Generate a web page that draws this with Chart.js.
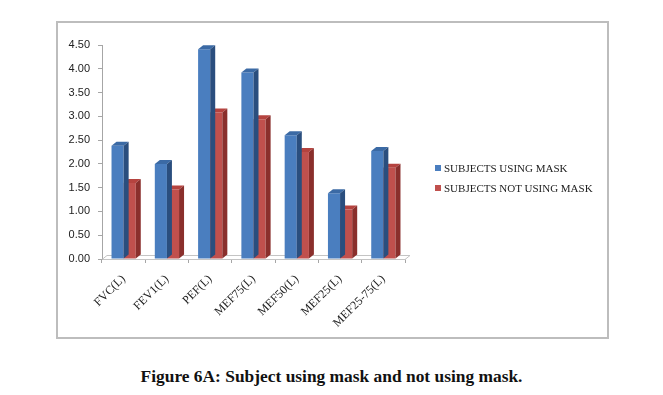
<!DOCTYPE html>
<html lang="en">
<head>
    <meta charset="UTF-8">
    <title>Figure 6A</title>
    <script src="https://cdn.jsdelivr.net/npm/chart.js"></script>
    <style>
        body { margin: 0; background: #fff; width: 663px; height: 395px; position: relative; overflow: hidden; }
        .frame {
            position: absolute; left: 56px; top: 21px; width: 553px; height: 318px;
            border: 2px solid #bdbdbd; box-sizing: border-box;
        }
        .itens {
            position: absolute; left: 435px; top: 161px;
            font: 11px "Liberation Serif", serif; color: #222;
        }
        .itens div { height: 20px; line-height: 14px; white-space: nowrap; }
        .itens span.box { display: inline-block; width: 6px; height: 6px; margin-right: 3px; vertical-align: 1px; }
        .legenda {
            position: absolute; top: 366px; left: 0; width: 663px; text-align: center;
            font: bold 17.4px "Liberation Serif", serif; color: #111;
        }
    </style>
</head>
<body>

    <div class="frame">
        <canvas id="myChart"></canvas>
    </div>
    <div class="itens" id="itens"></div>
    <div class="legenda">Figure 6A: Subject using mask and not using mask.</div>

<script>
    // dados
    var categorias = ['FVC(L)', 'FEV1(L)', 'PEF(L)', 'MEF75(L)', 'MEF50(L)', 'MEF25(L)', 'MEF25-75(L)'];
    var usandoMascara = [2.38, 2.00, 4.41, 3.92, 2.60, 1.38, 2.27];
    var semMascara = [1.60, 1.46, 3.08, 2.94, 2.25, 1.04, 1.92];
    var ticksY = [0, 0.5, 1, 1.5, 2, 2.5, 3, 3.5, 4, 4.5];

    var prof = { dx: 5, dy: -4 };
    var faces = [
        { topo: '#3b6aa5', lado: '#2a4e7e' },
        { topo: '#b5433f', lado: '#8a2f2c' }
    ];

    // efeito 3D: chao + topo e lateral de cada barra
    const barras3d = {
        id: 'barras3d',
        beforeDatasetsDraw(chart) {
            const ctx = chart.ctx;
            const a = chart.chartArea;
            ctx.save();
            ctx.strokeStyle = '#c4c4c4';
            ctx.lineWidth = 1;
            ctx.beginPath();
            ctx.moveTo(a.left, a.bottom + 0.5);
            ctx.lineTo(a.left + prof.dx, a.bottom + prof.dy + 0.5);
            ctx.lineTo(a.right + prof.dx, a.bottom + prof.dy + 0.5);
            ctx.lineTo(a.right, a.bottom + 0.5);
            ctx.stroke();
            ctx.restore();
        },
        afterDatasetDraw(chart, args) {
            const ctx = chart.ctx;
            const cor = faces[args.index];
            ctx.save();
            args.meta.data.forEach(function (bar) {
                const p = bar.getProps(['x', 'y', 'base', 'width'], true);
                const l = p.x - p.width / 2;
                const r = p.x + p.width / 2;
                ctx.fillStyle = cor.topo;
                ctx.beginPath();
                ctx.moveTo(l, p.y);
                ctx.lineTo(l + prof.dx, p.y + prof.dy);
                ctx.lineTo(r + prof.dx, p.y + prof.dy);
                ctx.lineTo(r, p.y);
                ctx.closePath();
                ctx.fill();
                ctx.fillStyle = cor.lado;
                ctx.beginPath();
                ctx.moveTo(r, p.y);
                ctx.lineTo(r + prof.dx, p.y + prof.dy);
                ctx.lineTo(r + prof.dx, p.base + prof.dy);
                ctx.lineTo(r, p.base);
                ctx.closePath();
                ctx.fill();
            });
            ctx.restore();
        }
    };

    const dados = {
        labels: categorias,
        datasets: [{
            label: 'SUBJECTS USING MASK',
            data: usandoMascara,
            backgroundColor: '#4a7ebf',
            borderWidth: 0
        },
        {
            label: 'SUBJECTS NOT USING MASK',
            data: semMascara,
            backgroundColor: '#c0504d',
            borderWidth: 0
        }]
    };

    const config = {
        type: 'bar',
        data: dados,
        plugins: [barras3d],
        options: {
            responsive: true,
            maintainAspectRatio: false,
            animation: false,
            layout: { padding: { left: 10, top: 22, right: 202, bottom: 0 } },
            datasets: {
                bar: { categoryPercentage: 0.56, barPercentage: 1.0 }
            },
            plugins: {
                tooltip: { enabled: false },
                legend: { display: false }
            },
            scales: {
                x: {
                    grid: { display: true, drawOnChartArea: false, tickLength: 4, color: '#a6a6a6' },
                    border: { color: '#c4c4c4' },
                    ticks: {
                        minRotation: 45, maxRotation: 45, padding: 9,
                        color: '#222',
                        font: { family: 'Liberation Serif', size: 12 }
                    },
                    afterFit(s) { s.height = 78; }
                },
                y: {
                    min: 0, max: 4.5,
                    afterBuildTicks(s) { s.ticks = ticksY.map(v => ({ value: v })); },
                    grid: { display: true, drawOnChartArea: false, tickLength: 4, color: '#a6a6a6' },
                    border: { color: '#a6a6a6' },
                    ticks: {
                        padding: 8,
                        color: '#222',
                        font: { family: 'Liberation Sans', size: 11 },
                        callback: v => Number(v).toFixed(2)
                    },
                    afterFit(s) { s.width = 34; }
                }
            }
        }
    };

    const myChart = new Chart(document.getElementById('myChart'), config);

    // legenda em html, montada a partir dos datasets
    var itens = document.getElementById('itens');
    dados.datasets.forEach(function (ds) {
        var linha = document.createElement('div');
        linha.innerHTML = '<span class="box" style="background:' + ds.backgroundColor + '"></span>' + ds.label;
        itens.appendChild(linha);
    });
</script>
</body>
</html>
